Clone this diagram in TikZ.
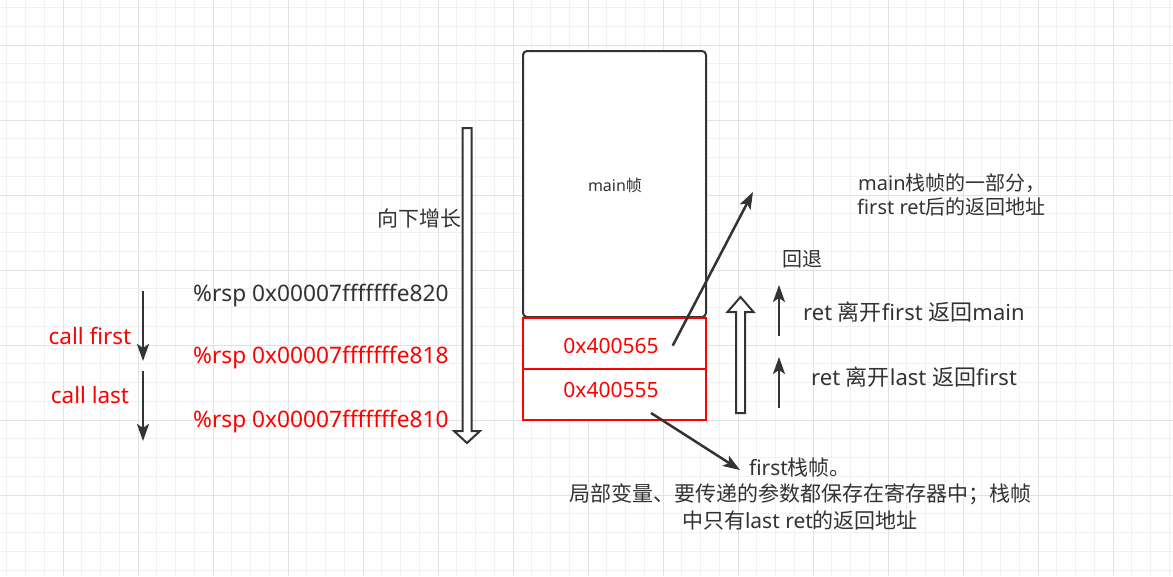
\documentclass[tikz,border=0pt]{standalone}
\usepackage{fontspec}
\setmainfont{Noto Sans}
\newfontfamily\cjk{Noto Sans CJK SC}
\usetikzlibrary{arrows.meta}
\definecolor{ink}{HTML}{333333}
\definecolor{redc}{HTML}{FF0000}
\definecolor{gridminor}{HTML}{F1F1F1}
\definecolor{gridmajor}{HTML}{E2E2E2}
\newcommand{\fsz}[1]{\fontsize{#1}{#1}\selectfont}
\begin{document}
\begin{tikzpicture}[x=1pt,y=-1pt,
  txt/.style={inner sep=0pt, text=ink},
  redtxt/.style={inner sep=0pt, text=redc},
  arr/.style={draw=ink, line width=2.5pt, -{Stealth[length=17pt,width=12pt,inset=4pt]}},
  hollow/.style={draw=ink, fill=white, line width=2pt, line join=miter},
  mainbox/.style={draw=ink, fill=white, line width=2pt, rounded corners=4pt},
  redbox/.style={draw=redc, fill=white, line width=2.2pt}]
\useasboundingbox (0,0) rectangle (1173,576);
\fill[white] (0,0) rectangle (1173,576);
% grid
\foreach \i in {0,...,62} {
  \draw[gridminor, line width=1pt] (6.75+\i*18.75,0) -- (6.75+\i*18.75,576);
}
\foreach \i in {0,...,31} {
  \draw[gridminor, line width=1pt] (0,7.5+\i*18.75) -- (1173,7.5+\i*18.75);
}
\foreach \i in {0,...,15} {
  \draw[gridmajor, line width=1pt] (63+\i*75-75,0) -- (63+\i*75-75,576);
}
\foreach \i in {0,...,7} {
  \draw[gridmajor, line width=1pt] (0,45+\i*75-75) -- (1173,45+\i*75-75);
}
% stack boxes
\draw[mainbox] (523,51) rectangle (706,317);
\node[txt, anchor=base, font=\fsz{16}] (mainf) at (615,191) {main{\cjk 帧}};
\draw[redbox] (523,318) rectangle (706,369);
\draw[redbox] (523,369) rectangle (706,420);
\node[redtxt, anchor=base, font=\fsz{21}] (a565) at (611,353) {0x400565};
\node[redtxt, anchor=base, font=\fsz{21}] (a555) at (611,397) {0x400555};
% growing down arrow
\draw[hollow] (462.5,128) -- (471.5,128) -- (471.5,431) -- (480,431) -- (467,443) -- (454,431) -- (462.5,431) -- cycle;
\node[txt, anchor=base east, font=\fsz{21}] (grow) at (462,226.5) {\cjk 向下增长};
% rsp labels
\node[txt, anchor=base west, font=\fsz{22.7}] (rsp1) at (193,301) {\%rsp 0x00007fffffffe820};
\node[redtxt, anchor=base west, font=\fsz{22.7}] (rsp2) at (193,363) {\%rsp 0x00007fffffffe818};
\node[redtxt, anchor=base west, font=\fsz{22.7}] (rsp3) at (193,427) {\%rsp 0x00007fffffffe810};
% calls
\node[redtxt, anchor=base, font=\fsz{22.5}] (cfirst) at (90,344) {call first};
\node[redtxt, anchor=base, font=\fsz{22.5}] (clast) at (90,403) {call last};
\coordinate (cf1) at (143,291); \coordinate (cf2) at (143,361);
\coordinate (cl1) at (143,371); \coordinate (cl2) at (143,441);
\draw[arr] (cf1) -- (cf2);
\draw[arr] (cl1) -- (cl2);
% going back
\draw[hollow] (736,413) -- (745,413) -- (745,312) -- (753.5,312) -- (740.5,297) -- (727.5,312) -- (736,312) -- cycle;
\node[txt, anchor=base west, font=\fsz{20}] (back) at (782,266.5) {\cjk 回退};
\coordinate (r1a) at (779,336); \coordinate (r1b) at (779,285);
\coordinate (r2a) at (779,408); \coordinate (r2b) at (779,357);
\draw[arr] (r1a) -- (r1b);
\draw[arr] (r2a) -- (r2b);
\node[txt, anchor=base west, font=\fsz{22}] (retm) at (803,320) {ret {\cjk 离开}first {\cjk 返回}main};
\node[txt, anchor=base west, font=\fsz{22}] (retf) at (811,385) {ret {\cjk 离开}last {\cjk 返回}first};
% main frame note
\node[txt, anchor=base west, font=\fsz{20}] (note1) at (858,190) {main{\cjk 栈帧的一部分，}};
\node[txt, anchor=base west, font=\fsz{20}] (note2) at (857,214) {first ret{\cjk 后的返回地址}};
\coordinate (d1) at (672.7,345.7); \coordinate (d2) at (753,192);
\draw[arr] (d1) -- (d2);
% first frame note
\coordinate (b1) at (651,413); \coordinate (b2) at (740,470);
\draw[arr] (b1) -- (b2);
\node[txt, anchor=base, font=\fsz{21}] (ff1) at (800,475) {first{\cjk 栈帧。}};
\node[txt, anchor=base, font=\fsz{21}] (ff2) at (800,501.5) {\cjk 局部变量、要传递的参数都保存在寄存器中；栈帧};
\node[txt, anchor=base, font=\fsz{21}] (ff3) at (800,528) {{\cjk 中只有}last ret{\cjk 的返回地址}};
\end{tikzpicture}
\end{document}
